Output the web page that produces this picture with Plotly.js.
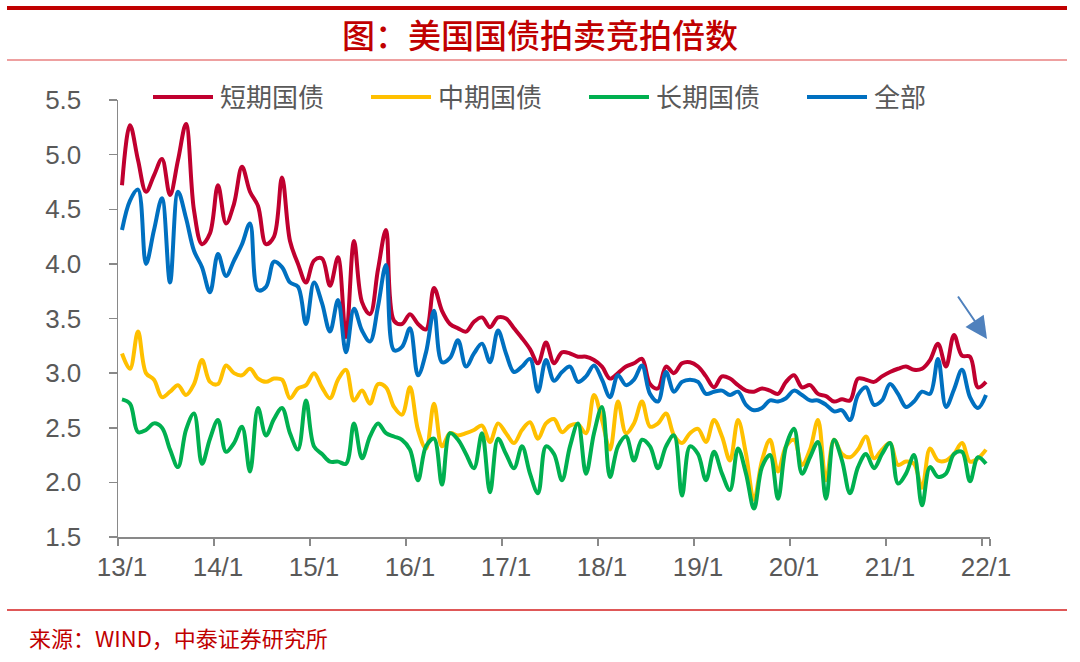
<!DOCTYPE html>
<html>
<head>
<meta charset="utf-8">
<script src="https://cdn.plot.ly/plotly-3.0.1.min.js"></script>
<style>
  html, body { margin: 0; padding: 0; background: #ffffff; }
  #chart { width: 1080px; height: 662px; }
</style>
</head>
<body>
<div id="chart"></div>
<script>
// ---- data ----
var startYear = 13, endYear = 22;
var tickLabels = ["13/1","14/1","15/1","16/1","17/1","18/1","19/1","20/1","21/1","22/1"];
var seriesNames = ["短期国债","中期国债","长期国债","全部"];
var seriesColors = ["#C0002F","#FFC000","#00B050","#0070C0"];

var shortTerm = [
  4.72,5.27,4.95,4.66,4.81,4.96,4.63,4.95,5.28,4.49,4.18,4.28,
  4.72,4.37,4.55,4.89,4.66,4.53,4.18,4.25,4.79,4.21,4.00,3.83,
  4.03,4.05,3.80,4.06,3.33,4.21,3.65,3.54,3.95,4.31,3.48,3.45,
  3.54,3.45,3.40,3.78,3.57,3.45,3.41,3.38,3.47,3.51,3.42,3.51,
  3.50,3.41,3.32,3.22,3.09,3.28,3.09,3.19,3.18,3.15,3.15,3.12,
  3.06,2.95,3.00,3.06,3.09,3.13,2.90,2.86,3.06,3.00,3.09,3.10,
  3.06,2.97,2.87,2.97,2.95,2.89,2.84,2.83,2.86,2.84,2.81,2.92,
  2.98,2.87,2.89,2.81,2.79,2.74,2.76,2.75,2.95,2.94,2.92,2.97,
  3.01,3.04,3.06,3.03,3.04,3.12,3.27,3.06,3.35,3.16,3.15,2.87,
  2.92
];
var midTerm = [
  3.18,3.04,3.38,3.00,2.94,2.78,2.83,2.89,2.80,2.90,3.12,2.92,
  2.90,3.07,3.00,2.98,3.04,2.95,2.92,2.95,2.94,2.77,2.86,2.89,
  3.00,2.87,2.77,2.94,3.03,2.75,2.84,2.72,2.90,2.87,2.69,2.62,
  2.87,2.48,2.31,2.72,2.33,2.45,2.43,2.45,2.48,2.52,2.37,2.54,
  2.45,2.36,2.48,2.55,2.40,2.54,2.58,2.46,2.52,2.53,2.45,2.80,
  2.57,2.30,2.74,2.45,2.54,2.74,2.51,2.54,2.63,2.43,2.36,2.45,
  2.49,2.37,2.57,2.42,2.20,2.57,2.26,1.84,2.20,2.39,2.10,2.33,
  2.39,2.16,2.30,2.57,2.02,2.39,2.26,2.23,2.30,2.42,2.22,2.30,
  2.36,2.16,2.19,2.17,1.95,2.31,2.20,2.20,2.26,2.36,2.19,2.22,
  2.30
];
var longTerm = [
  2.76,2.72,2.46,2.48,2.54,2.50,2.30,2.14,2.48,2.63,2.17,2.40,
  2.57,2.28,2.36,2.51,2.10,2.68,2.43,2.58,2.68,2.45,2.30,2.75,
  2.33,2.26,2.19,2.19,2.17,2.54,2.22,2.42,2.54,2.45,2.42,2.39,
  2.30,2.02,2.33,2.40,1.98,2.45,2.39,2.26,2.13,2.45,1.91,2.40,
  2.26,2.13,2.33,2.08,1.90,2.33,2.26,2.02,2.33,2.54,2.08,2.45,
  2.69,2.05,2.33,2.42,2.20,2.39,2.33,2.13,2.33,2.43,1.88,2.33,
  2.26,2.02,2.28,2.08,1.93,2.31,2.08,1.76,2.14,2.25,1.85,2.33,
  2.49,2.08,2.23,2.37,1.85,2.39,2.20,1.90,2.14,2.26,2.13,2.26,
  2.36,1.99,2.08,2.25,1.79,2.14,2.05,2.08,2.26,2.28,2.01,2.23,
  2.17
];
var allAuctions = [
  4.31,4.58,4.68,4.00,4.31,4.60,3.83,4.66,4.42,4.12,3.97,3.74,
  4.09,3.89,4.03,4.18,4.37,3.76,3.79,4.02,3.97,3.83,3.79,3.45,
  3.83,3.64,3.38,3.67,3.19,3.59,3.39,3.29,3.61,3.99,3.21,3.24,
  3.41,2.98,3.19,3.57,3.10,3.14,3.30,3.06,3.18,3.27,3.10,3.39,
  3.18,3.01,3.06,3.13,2.83,3.12,2.93,3.01,3.06,2.92,2.97,3.07,
  2.94,2.78,2.98,2.89,2.94,3.07,2.81,2.74,3.01,2.83,2.92,2.94,
  2.92,2.81,2.83,2.84,2.80,2.83,2.71,2.66,2.68,2.75,2.74,2.77,
  2.84,2.80,2.75,2.75,2.71,2.65,2.66,2.57,2.80,2.87,2.71,2.75,
  2.90,2.81,2.69,2.74,2.83,2.81,3.13,2.69,2.85,3.03,2.78,2.68,
  2.80
];

// monthly category labels "YY/M"
var months = [];
for (var y = startYear; y <= endYear; y++) {
  for (var m = 1; m <= 12; m++) {
    months.push(y + "/" + m);
    if (y === endYear) break;
  }
}

var seriesValues = [shortTerm, midTerm, longTerm, allAuctions];
var traces = seriesValues.map(function (vals, k) {
  return {
    type: "scatter",
    mode: "lines",
    name: seriesNames[k],
    x: months,
    y: vals,
    line: { color: seriesColors[k], width: 4, shape: "spline", smoothing: 1 },
    hoverinfo: "skip"
  };
});

var cjk = "Noto Sans CJK SC, Noto Sans, sans-serif";
var latin = "Liberation Sans, Arial, sans-serif";

var layout = {
  width: 1080,
  height: 662,
  margin: { l: 118, r: 90, t: 100, b: 125, autoexpand: false },
  paper_bgcolor: "#ffffff",
  plot_bgcolor: "#ffffff",
  showlegend: true,
  title: {
    text: "图：美国国债拍卖竞拍倍数",
    font: { family: cjk, size: 33, color: "#C00000", weight: 500 },
    x: 0.5, xref: "container", xanchor: "center",
    y: 1 - 36 / 662, yref: "container", yanchor: "middle"
  },
  legend: {
    orientation: "h",
    xref: "container",
    x: 148 / 1080, xanchor: "left",
    yref: "container",
    y: 1 - 97 / 662, yanchor: "middle",
    font: { family: cjk, size: 26, color: "#595959" },
    itemwidth: 62,
    entrywidth: 141,
    entrywidthmode: "pixels",
    bgcolor: "rgba(0,0,0,0)",
    traceorder: "normal"
  },
  xaxis: {
    type: "category",
    range: [-0.5, months.length - 0.5],
    tickmode: "array",
    tickvals: tickLabels,
    ticktext: tickLabels,
    tickson: "boundaries",
    tickangle: 0,
    ticks: "outside",
    ticklen: 7,
    tickwidth: 1.5,
    tickcolor: "#898989",
    showline: true,
    linecolor: "#898989",
    linewidth: 1.5,
    showgrid: false,
    zeroline: false,
    automargin: false,
    tickfont: { family: latin, size: 26, color: "#595959" },
    ticklabelstandoff: 6,
    fixedrange: true
  },
  yaxis: {
    range: [1.5, 5.5],
    dtick: 0.5,
    tick0: 1.5,
    tickformat: ".1f",
    ticks: "outside",
    ticklen: 8,
    tickwidth: 1.5,
    tickcolor: "#898989",
    showline: true,
    linecolor: "#898989",
    linewidth: 1.5,
    showgrid: false,
    zeroline: false,
    automargin: false,
    tickfont: { family: latin, size: 26, color: "#595959" },
    ticklabelstandoff: 22,
    fixedrange: true
  },
  shapes: [
    { type: "line", xref: "paper", yref: "paper",
      x0: (7 - 118) / 872, x1: (1067 - 118) / 872,
      y0: (537 - 8) / 437, y1: (537 - 8) / 437,
      line: { color: "#C00000", width: 4 } },
    { type: "line", xref: "paper", yref: "paper",
      x0: (7 - 118) / 872, x1: (1067 - 118) / 872,
      y0: (537 - 60) / 437, y1: (537 - 60) / 437,
      line: { color: "#E88080", width: 1.5 } },
    { type: "line", xref: "paper", yref: "paper",
      x0: (7 - 118) / 872, x1: (1067 - 118) / 872,
      y0: (537 - 610) / 437, y1: (537 - 610) / 437,
      line: { color: "#D42020", width: 1.5 } }
  ],
  annotations: [
    { xref: "paper", yref: "paper",
      x: (27 - 118) / 872, y: (537 - 637) / 437,
      xanchor: "left", yanchor: "middle",
      text: "来源：WIND，中泰证券研究所",
      showarrow: false,
      font: { family: cjk, size: 22, color: "#C00000" } },
    { xref: "paper", yref: "paper",
      x: (987 - 118) / 872, y: (537 - 339) / 437,
      text: "", showarrow: true,
      ax: -30, ay: -44,
      arrowhead: 2, arrowsize: 2.2, arrowwidth: 2,
      arrowcolor: "#4F81BD", standoff: 0 }
  ]
};

function stretchLegendLines(gd) {
  var paths = gd.querySelectorAll(".legendlines path");
  paths.forEach(function (p) { p.setAttribute("d", "M5,0h60"); });
}

Plotly.newPlot("chart", traces, layout, { staticPlot: true, displayModeBar: false })
  .then(function (gd) {
    stretchLegendLines(gd);
    gd.on("plotly_afterplot", function () { stretchLegendLines(gd); });
  });
</script>
</body>
</html>
